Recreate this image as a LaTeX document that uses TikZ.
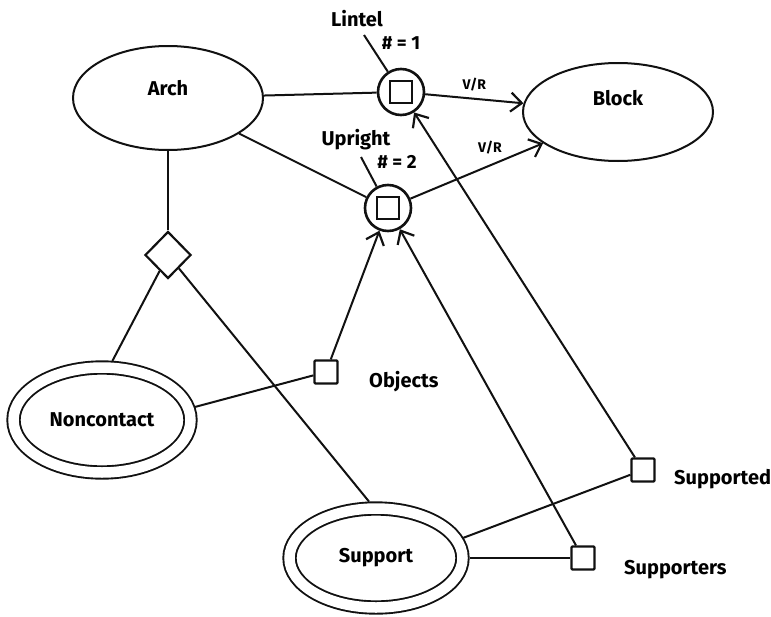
\documentclass[tikz,border=0pt]{standalone}
\usepackage{fontspec}
\setmainfont{Fira Sans}
\usepackage{tikz}
\usetikzlibrary{arrows.meta, positioning, shapes.geometric}
\definecolor{ink}{HTML}{111111}
\tikzset{
    classbox/.style={
        ellipse,
        draw=ink,
        line width=2pt,
        minimum width=190pt,
        minimum height=104pt,
        font=\fontsize{20}{24}\selectfont\bfseries
    },
    relbox/.style={
        ellipse,
        draw=ink,
        line width=1.9pt,
        double,
        double distance=10.5pt,
        outer sep=7pt,
        font=\fontsize{20}{24}\selectfont\bfseries
    },
    rolebox/.style={
        circle,
        draw=ink,
        line width=2.6pt,
        minimum size=46pt,
        inner sep=0pt,
        path picture={
            \draw[line width=2.2pt] ([shift={(-11pt,-11pt)}]path picture bounding box.center)
                rectangle ([shift={(11pt,11pt)}]path picture bounding box.center);
        }
    },
    slotbox/.style={
        rectangle,
        draw=ink,
        line width=2.2pt,
        rounded corners=1pt,
        minimum size=23pt,
        inner sep=0pt
    },
    joinbox/.style={
        diamond,
        draw=ink,
        line width=2.2pt,
        minimum width=46pt,
        minimum height=47pt,
        inner sep=0pt
    },
    tag/.style={font=\fontsize{20}{24}\selectfont\bfseries, inner sep=0pt},
    count/.style={font=\fontsize{19}{22}\selectfont\bfseries, inner sep=0pt},
    vr/.style={font=\fontsize{14}{16}\selectfont\bfseries, inner sep=0pt},
    line/.style={draw=ink, line width=2pt},
    arrow/.style={
        -{Straight Barb[length=11pt, width=19pt, line width=2.2pt]},
        line
    }
}

\begin{document}
\begin{tikzpicture}[x=1pt, y=-1pt]
    \useasboundingbox (0,0) rectangle (771,616);

    % concepts
    \node[classbox, text depth=21pt] (arch) at (168,98) {Arch};
    \node[classbox, minimum height=98pt, text depth=29pt] (block) at (618,112) {Block};
    \node[rolebox] (lintel) at (401,92) {};
    \node[rolebox] (upright) at (388,208) {};
    \node[joinbox] (join) at (168,255) {};
    \node[relbox, minimum width=177pt, minimum height=105pt] (noncontact) at (102,420) {Noncontact};
    \node[relbox, minimum width=173pt, minimum height=99pt] (support) at (376,558) {Support};
    \node[slotbox] (objects) at (326,372) {};
    \node[slotbox] (supported) at (643,470) {};
    \node[slotbox] (supporters) at (583,558) {};

    % names
    \node[tag] (lintel-name) at (357,19) {Lintel};
    \node[count] (lintel-count) at (401,43) {\# = 1};
    \node[tag] (upright-name) at (356,140) {Upright};
    \node[count] (upright-count) at (397,162) {\# = 2};
    \node[tag, anchor=west] (objects-name) at (369,382) {Objects};
    \node[tag, anchor=west] (supported-name) at (674,479) {Supported};
    \node[tag, anchor=west] (supporters-name) at (624,570) {Supporters};
    \coordinate (lintel-tip) at (364,35);
    \coordinate (upright-tip) at (361,157);

    \draw[line] (lintel-tip) -- (lintel);
    \draw[line] (upright-tip) -- (upright);
    \draw[line] (arch) -- (lintel);
    \draw[line] (arch) -- (upright);
    \draw[arrow] (lintel) -- node[vr, above=7pt] (lintel-vr) {V/R} (block);
    \draw[arrow] (upright) -- node[vr, above=10pt, pos=0.6] (upright-vr) {V/R} (block);
    \draw[line] (join) -- (arch);
    \draw[line] (join) -- (noncontact.80);
    \draw[line] (join) -- (support.97);
    \draw[line] (noncontact.8) -- (objects);
    \draw[arrow] (objects) -- (upright);
    \draw[line] (support.13) -- (supported);
    \draw[line] (support) -- (supporters);
    \draw[arrow] (supported) -- (lintel);
    \draw[arrow] (supporters) -- (upright);
\end{tikzpicture}
\end{document}
